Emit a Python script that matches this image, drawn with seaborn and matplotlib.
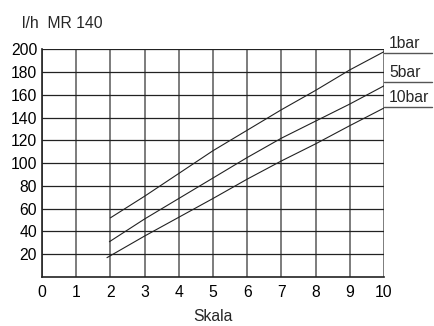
import seaborn as sns
import matplotlib.pyplot as plt
import pandas as pd

# Skala values and flow (l/h)
scale_1bar = [2, 3, 4, 5, 6, 7, 8, 9, 10]
flow_1bar = [52, 71, 91, 111, 129, 147, 164, 182, 198]
scale_5bar = [1.97, 3, 4, 5, 6, 7, 8, 9, 10]
flow_5bar = [31, 51, 69, 87, 105, 122, 137, 152, 168]
scale_10bar = [1.9, 3, 4, 5, 6, 7, 8, 9, 10]
flow_10bar = [17, 36, 52.5, 69, 86, 102, 117, 133, 148.5]
series_names = ['1bar', '5bar', '10bar']
x_ticks = list(range(0, 11))
y_ticks = list(range(20, 201, 20))

df = pd.concat([
    pd.DataFrame({'Skala': scale_1bar, 'flow': flow_1bar, 'druck': '1bar'}),
    pd.DataFrame({'Skala': scale_5bar, 'flow': flow_5bar, 'druck': '5bar'}),
    pd.DataFrame({'Skala': scale_10bar, 'flow': flow_10bar, 'druck': '10bar'}),
])

sns.set_style('white')
plt.rcParams['font.family'] = ['Liberation Sans', 'DejaVu Sans']
fs = 11.3

fig = plt.figure(figsize=(4.35, 3.26), dpi=100)
ax = fig.add_axes([0.0966, 0.1503, 0.786, 0.698])

# grid
for v in x_ticks:
    ax.axvline(v, color='#666666', lw=1.2, zorder=1)
for h in y_ticks:
    ax.axhline(h, color='#222222', lw=0.9, zorder=1)

sns.lineplot(data=df, x='Skala', y='flow', hue='druck', sort=False,
             palette={n: '#222222' for n in series_names}, lw=0.8,
             legend=False, ax=ax, zorder=3)

ax.set_xlim(0, 10)
ax.set_ylim(0, 200)
ax.set_xticks(x_ticks)
ax.set_yticks(y_ticks)
ax.tick_params(length=0, labelsize=fs, colors='black')
ax.tick_params(axis='y', pad=3.5)
ax.tick_params(axis='x', pad=6)
for s in ['top', 'right']:
    ax.spines[s].set_visible(False)
for s in ['left', 'bottom']:
    ax.spines[s].set_color('#222222')
    ax.spines[s].set_linewidth(1.2)
ax.set_xlabel('Skala', fontsize=fs, labelpad=6)
ax.set_ylabel('')

# labels with underline at the right
ends = {'1bar': flow_1bar[-1] - 1, '5bar': flow_5bar[-1] + 3, '10bar': flow_10bar[-1] + 1}
for name, yv in ends.items():
    ax.plot([10, 11.4], [yv, yv], color='#555555', lw=1, clip_on=False)
    ax.text(10.15, yv + 2, name, fontsize=fs, ha='left', va='bottom')

fig.text(22 / 435, 1 - 24 / 326, 'l/h  MR 140', fontsize=fs, va='center', ha='left')

fig.savefig('out.png', dpi=100)
